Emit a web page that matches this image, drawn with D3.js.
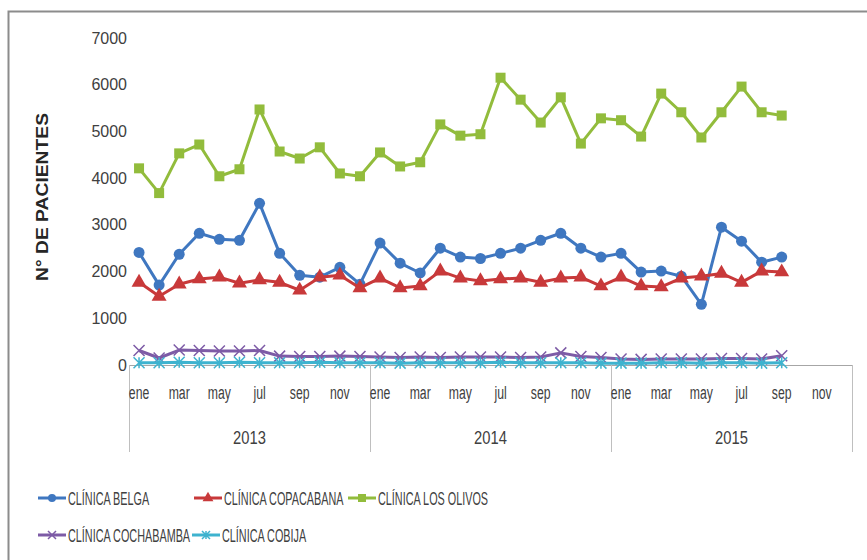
<!DOCTYPE html>
<html>
<head>
<meta charset="utf-8">
<script src="https://cdn.jsdelivr.net/npm/d3@7"></script>
<style>
  body { margin: 0; background: #fff; }
  svg text { font-family: "Liberation Sans", Arial, sans-serif; fill: #404040; }
</style>
</head>
<body>
<svg id="chart" width="867" height="560"></svg>
<script>
// months shown on the category axis (ene 2013 .. dic 2015)
var years = ['2013', '2014', '2015'];
var months = ['ene', 'feb', 'mar', 'abr', 'may', 'jun', 'jul', 'ago', 'sep', 'oct', 'nov', 'dic'];
var yTicks = [0, 1000, 2000, 3000, 4000, 5000, 6000, 7000];

// series values, ene 2013 .. sep 2015
var belga = [2410, 1710, 2370, 2820, 2690, 2670, 3460, 2390, 1920, 1880, 2090, 1730,
             2610, 2180, 1970, 2500, 2310, 2280, 2390, 2500, 2670, 2820, 2500, 2310,
             2390, 1990, 2010, 1900, 1300, 2950, 2650, 2200, 2310];
var copacabana = [1770, 1470, 1730, 1840, 1880, 1750, 1820, 1770, 1600, 1880, 1920, 1650,
                  1860, 1650, 1690, 2010, 1860, 1800, 1840, 1860, 1770, 1860, 1880, 1690,
                  1880, 1690, 1670, 1860, 1900, 1960, 1770, 2010, 1990];
var losOlivos = [4210, 3680, 4530, 4720, 4040, 4190, 5470, 4570, 4420, 4660, 4100, 4040,
                 4550, 4250, 4340, 5150, 4910, 4940, 6150, 5680, 5190, 5730, 4740, 5280,
                 5240, 4890, 5810, 5410, 4870, 5410, 5960, 5410, 5340];
var cochabamba = [310, 150, 320, 310, 300, 300, 310, 190, 180, 180, 190, 180,
                  170, 160, 170, 160, 170, 170, 170, 160, 170, 260, 180, 160,
                  130, 120, 130, 130, 130, 140, 140, 130, 200];
var cobija = [50, 50, 60, 50, 50, 60, 50, 50, 50, 60, 50, 50,
              50, 40, 50, 50, 50, 50, 60, 50, 50, 50, 50, 40,
              40, 40, 50, 50, 40, 50, 50, 40, 50];

var seriesNames = ['CLÍNICA BELGA', 'CLÍNICA COPACABANA', 'CLÍNICA LOS OLIVOS', 'CLÍNICA COCHABAMBA', 'CLÍNICA COBIJA'];
var seriesValues = [belga, copacabana, losOlivos, cochabamba, cobija];
var colors = ['#3f77c0', '#c8393a', '#92bc3c', '#7d5ba6', '#3eb3cf'];
var markers = ['circle', 'triangle', 'square', 'x', 'star'];

var svg = d3.select('#chart');
var margin = { left: 129, right: 852, top: 38, bottom: 365 };

// narrow text: placed at (px,py), squeezed horizontally by k
function narrowText(parent, px, py, k, str, size, anchor) {
    return parent.append('text')
        .attr('transform', 'translate(' + px + ',' + py + ') scale(' + k + ',1)')
        .attr('text-anchor', anchor)
        .attr('font-size', size)
        .text(str);
}

// chart frame (only top and left edges fall inside the picture)
svg.append('rect')
    .attr('x', 8.5).attr('y', 11.5).attr('width', 900).attr('height', 600)
    .attr('fill', 'none').attr('stroke', '#8c8c8c').attr('stroke-width', 2);

var categories = [];
years.forEach(function (yr) {
    months.forEach(function (m, i) { categories.push({ key: yr + '-' + i, year: yr, month: m, idx: i }); });
});

var x = d3.scaleBand()
    .domain(categories.map(function (d) { return d.key; }))
    .range([margin.left, margin.right])
    .padding(0);
var y = d3.scaleLinear().domain([0, 7000]).range([margin.bottom, margin.top]);
var cx = function (i) { return x(categories[i].key) + x.bandwidth() / 2; };

// y axis labels, no line
var yAxis = d3.axisLeft(y).tickValues(yTicks).tickSize(0).tickPadding(2).tickFormat(d3.format('d'));
var yg = svg.append('g').attr('transform', 'translate(' + margin.left + ',0)').call(yAxis);
yg.select('.domain').remove();
yg.selectAll('text').attr('font-size', 16).attr('font-family', null).style('fill', '#404040');

svg.append('text')
    .attr('transform', 'translate(48,197) rotate(-90)')
    .attr('text-anchor', 'middle')
    .attr('font-size', 17).attr('font-weight', 'bold')
    .attr('textLength', 168).attr('lengthAdjust', 'spacingAndGlyphs')
    .style('fill', '#262626')
    .text('N° DE PACIENTES');

// category axis
var xg = svg.append('g');
xg.append('line')
    .attr('x1', margin.left).attr('x2', margin.right)
    .attr('y1', margin.bottom + 0.5).attr('y2', margin.bottom + 0.5)
    .attr('stroke', '#a6a6a6');

var yearEdges = [0, 12, 24, 36];
xg.selectAll('.sep').data(yearEdges).enter().append('line')
    .attr('x1', function (i) { return Math.round(i < 36 ? x(categories[i].key) : margin.right) + 0.5; })
    .attr('x2', function (i) { return Math.round(i < 36 ? x(categories[i].key) : margin.right) + 0.5; })
    .attr('y1', margin.bottom).attr('y2', 452)
    .attr('stroke', '#bfbfbf');

categories.filter(function (d) { return d.idx % 2 === 0; }).forEach(function (d) {
    narrowText(xg, x(d.key) + x.bandwidth() / 2, 399, 0.68, d.month, 18, 'middle');
});
years.forEach(function (yr) {
    narrowText(xg, x(yr + '-0') + x.bandwidth() * 6, 444, 0.82, yr, 18, 'middle');
});

// marker drawing
function drawMarker(g, type, color, size) {
    if (type === 'circle') {
        g.append('circle').attr('r', size * 0.5).attr('fill', color);
    } else if (type === 'triangle') {
        g.append('path').attr('d', d3.symbol(d3.symbolTriangle, size * size * 0.8)()).attr('fill', color);
    } else if (type === 'square') {
        g.append('rect').attr('x', -size / 2).attr('y', -size / 2).attr('width', size).attr('height', size).attr('fill', color);
    } else if (type === 'x') {
        var s = size / 2;
        g.append('path').attr('d', 'M' + -s + ',' + -s + 'L' + s + ',' + s + 'M' + -s + ',' + s + 'L' + s + ',' + -s)
            .attr('stroke', color).attr('stroke-width', 1.5).attr('fill', 'none');
    } else {
        var s2 = size / 2;
        g.append('path').attr('d', 'M' + -s2 + ',' + -s2 + 'L' + s2 + ',' + s2 + 'M' + -s2 + ',' + s2 + 'L' + s2 + ',' + -s2 + 'M0,' + -s2 + 'L0,' + s2)
            .attr('stroke', color).attr('stroke-width', 1.5).attr('fill', 'none');
    }
}

var line = d3.line()
    .x(function (d, i) { return cx(i); })
    .y(function (d) { return y(d); });

seriesValues.forEach(function (vals, s) {
    var g = svg.append('g');
    g.append('path')
        .datum(vals)
        .attr('d', line)
        .attr('fill', 'none')
        .attr('stroke', colors[s])
        .attr('stroke-width', 3)
        .attr('stroke-linejoin', 'round');
    vals.forEach(function (v, i) {
        var mg = g.append('g').attr('transform', 'translate(' + cx(i) + ',' + y(v) + ')');
        drawMarker(mg, markers[s], colors[s], s === 2 ? 10 : 11);
    });
});

// legend
var legendPos = [[38, 498], [194, 498], [348, 498], [38, 535], [192, 535]];
seriesNames.forEach(function (name, s) {
    var lx = legendPos[s][0], ly = legendPos[s][1];
    var lg = svg.append('g');
    lg.append('line')
        .attr('x1', lx).attr('x2', lx + 28)
        .attr('y1', ly).attr('y2', ly)
        .attr('stroke', colors[s]).attr('stroke-width', 3);
    var mg = lg.append('g').attr('transform', 'translate(' + (lx + 14) + ',' + ly + ')');
    drawMarker(mg, markers[s], colors[s], 8);
    narrowText(lg, lx + 30, ly + 7, 0.57, name, 19, 'start');
});
</script>
</body>
</html>
